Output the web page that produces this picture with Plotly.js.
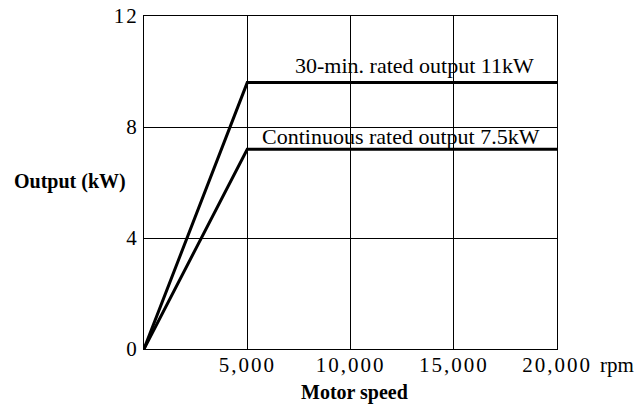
<!DOCTYPE html>
<html>
<head>
<meta charset="utf-8">
<script src="https://cdn.plot.ly/plotly-3.0.1.min.js"></script>
<style>
html,body{margin:0;padding:0;background:#fff;}
#chart{width:644px;height:406px;}
.xtick text,.ytick text{letter-spacing:2px;}
</style>
</head>
<body>
<div id="chart"></div>
<script>
const motorSpeed = [0, 5000, 20000];
const rated30min = [0, 9.6, 9.6];
const continuousRated = [0, 7.2, 7.2];
const xTickVals = [5000, 10000, 15000, 20000];
const xTickText = ['5,000', '10,000', '15,000', '20,000'];
const yTickVals = [0, 4, 8, 12];
const yTickText = ['0', '4', '8', '12'];
const label30 = '30-min. rated output 11kW';
const labelCont = 'Continuous rated output 7.5kW';

const serif = 'Liberation Serif, Times New Roman, serif';

const traces = [
  {x: motorSpeed, y: rated30min, mode: 'lines', line: {color: '#000', width: 3}, hoverinfo: 'skip'},
  {x: motorSpeed, y: continuousRated, mode: 'lines', line: {color: '#000', width: 3}, hoverinfo: 'skip'}
];

const layout = {
  width: 644, height: 406,
  margin: {l: 144, r: 87, t: 16, b: 57},
  paper_bgcolor: '#fff', plot_bgcolor: '#fff',
  showlegend: false,
  font: {family: serif, color: '#000'},
  xaxis: {
    range: [0, 20000], tickvals: xTickVals, ticktext: xTickText,
    showgrid: true, gridcolor: '#000', gridwidth: 1,
    zeroline: false, showline: true, linecolor: '#000', linewidth: 1, mirror: true,
    ticks: '', ticklabelstandoff: -3,
    tickfont: {family: serif, size: 21, color: '#000'}
  },
  yaxis: {
    range: [0, 12], tickvals: yTickVals, ticktext: yTickText,
    showgrid: true, gridcolor: '#000', gridwidth: 1,
    zeroline: false, showline: true, linecolor: '#000', linewidth: 1, mirror: true,
    ticks: '',
    tickfont: {family: serif, size: 21, color: '#000'}
  },
  annotations: [
    {x: 13075, y: 10.23, xref: 'x', yref: 'y', text: label30, showarrow: false,
     xanchor: 'center', yanchor: 'middle', font: {family: serif, size: 22, color: '#000'}},
    {x: 12445, y: 7.64, xref: 'x', yref: 'y', text: labelCont, showarrow: false,
     xanchor: 'center', yanchor: 'middle', font: {family: serif, size: 22, color: '#000'}},
    {x: 70, y: 181, xref: 'paper', yref: 'paper', text: '<b>Output (kW)</b>', showarrow: false,
     xanchor: 'center', yanchor: 'middle', font: {family: serif, size: 20, color: '#000'}},
    {x: 354, y: 392, text: '<b>Motor speed</b>', showarrow: false,
     xanchor: 'center', yanchor: 'middle', font: {family: serif, size: 20, color: '#000'}},
    {x: 598, y: 365, text: 'rpm', showarrow: false,
     xanchor: 'left', yanchor: 'middle', font: {family: serif, size: 21, color: '#000'}}
  ]
};

// convert pixel-positioned labels to paper coordinates
const pw = 644 - 144 - 87, ph = 406 - 16 - 57;
layout.annotations.forEach((a, i) => {
  if (i >= 2) {
    a.xref = 'paper'; a.yref = 'paper';
    a.x = (a.x - 144) / pw;
    a.y = (406 - 57 - a.y) / ph;
  }
});

Plotly.newPlot('chart', traces, layout, {displayModeBar: false, staticPlot: true});
</script>
</body>
</html>
